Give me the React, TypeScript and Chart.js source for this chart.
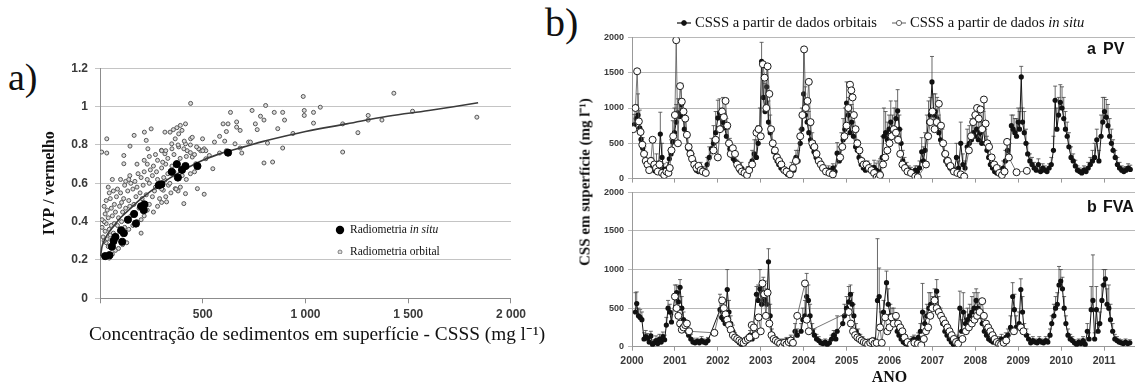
import React, { useEffect, useRef } from 'react';
import { Chart, registerables } from 'chart.js';

Chart.register(...registerables);

const SERIF = "'Liberation Serif', 'Times New Roman', serif";
const SANS = "'Liberation Sans', Arial, sans-serif";

// ---------- Panel a data ----------
const aTitleX = 'Concentração de sedimentos em superfície - CSSS (mg l⁻¹)';
const aTitleY = 'IVP / vermelho';
const aLegendInSitu = 'Radiometria';
const aLegendOrbital = 'Radiometria orbital';

const aInSitu: [number, number][] = [
  [25, 0.22], [46, 0.225], [58, 0.27], [66, 0.3], [75, 0.32], [103, 0.355], [108, 0.295], [116, 0.34],
  [136, 0.41], [166, 0.44], [175, 0.39], [200, 0.48], [213, 0.46], [216, 0.49], [286, 0.59], [299, 0.595],
  [349, 0.66], [374, 0.7], [379, 0.63], [399, 0.67], [416, 0.69], [474, 0.69], [623, 0.76],
];

const aOrbital: [number, number][] = [
  [441, 1.017], [635, 0.97], [623, 0.91], [665, 0.92], [740, 0.98], [806, 1.006], [781, 0.95], [798, 0.93],
  [756, 0.91], [765, 0.88], [848, 0.97], [865, 0.885], [889, 0.97], [898, 0.93], [889, 0.784], [989, 1.053],
  [994, 0.98], [994, 0.954], [1039, 0.97], [1039, 0.914], [1072, 0.997], [1181, 0.91], [1181, 0.763],
  [1255, 0.864], [1305, 0.954], [1305, 0.93], [1372, 0.93], [1430, 1.07], [1521, 0.976], [1834, 0.945],
  [798, 0.706], [840, 0.711], [815, 0.81], [939, 0.86], [723, 0.815], [732, 0.815], [690, 0.758], [682, 0.784],
  [657, 0.806], [607, 0.82], [615, 0.87], [582, 0.845], [557, 0.815], [599, 0.91], [665, 0.893], [682, 0.876],
  [615, 0.77], [582, 0.758], [549, 0.676], [515, 0.728], [507, 0.78], [499, 0.832], [490, 0.77], [515, 0.77],
  [532, 0.745], [507, 0.543], [474, 0.572], [466, 0.702], [449, 0.737], [441, 0.832], [449, 0.84], [424, 0.77],
  [416, 0.91], [399, 0.876], [391, 0.902], [374, 0.89], [383, 0.858], [357, 0.88], [341, 0.867], [366, 0.832],
  [349, 0.806], [383, 0.79], [408, 0.78], [416, 0.806], [416, 0.546], [408, 0.494], [391, 0.58], [366, 0.572],
  [333, 0.59], [324, 0.503], [308, 0.564], [316, 0.616], [316, 0.754], [299, 0.772], [316, 0.867], [249, 0.884],
  [216, 0.867], [233, 0.78], [225, 0.824], [166, 0.85], [146, 0.794], [116, 0.745], [116, 0.702], [33, 0.832],
  [8, 0.763], [33, 0.758],
  [45, 0.21], [60, 0.23], [75, 0.25], [55, 0.26], [40, 0.27], [90, 0.26], [110, 0.28], [30, 0.29], [70, 0.29],
  [130, 0.29], [20, 0.3],
  [15, 0.32], [35, 0.31], [50, 0.33], [65, 0.34], [80, 0.32], [95, 0.35], [25, 0.35], [45, 0.36], [10, 0.37],
  [55, 0.38], [85, 0.38], [120, 0.37], [140, 0.36], [30, 0.39], [70, 0.39], [105, 0.4], [20, 0.4], [200, 0.34],
  [160, 0.38], [180, 0.4],
  [10, 0.41], [40, 0.42], [60, 0.43], [90, 0.42], [130, 0.41], [150, 0.43], [25, 0.44], [75, 0.45], [110, 0.45],
  [170, 0.44], [200, 0.41], [215, 0.43], [35, 0.46], [55, 0.47], [95, 0.48], [125, 0.47], [145, 0.48], [190, 0.47],
  [230, 0.46], [260, 0.45], [20, 0.48], [70, 0.49], [105, 0.5], [165, 0.49], [240, 0.49], [280, 0.48], [300, 0.5],
  [30, 0.51], [50, 0.52], [80, 0.53], [115, 0.52], [140, 0.51], [175, 0.53], [205, 0.52], [255, 0.53], [290, 0.52],
  [320, 0.53], [45, 0.55], [65, 0.56], [100, 0.55], [135, 0.56], [160, 0.57], [195, 0.55], [225, 0.54], [265, 0.56],
  [300, 0.57], [345, 0.55], [380, 0.56], [40, 0.58], [85, 0.57], [120, 0.59], [150, 0.6], [180, 0.58], [210, 0.59],
  [240, 0.6], [270, 0.58], [340, 0.6], [370, 0.57],
  [60, 0.62], [100, 0.62], [125, 0.61], [140, 0.62], [170, 0.61], [200, 0.63], [230, 0.62], [255, 0.64], [280, 0.62],
  [310, 0.63], [330, 0.65], [145, 0.64], [185, 0.65], [215, 0.66], [245, 0.67], [275, 0.66], [300, 0.68], [320, 0.7],
  [350, 0.69], [360, 0.66], [400, 0.64], [420, 0.62], [440, 0.65], [460, 0.66], [230, 0.7], [260, 0.69], [280, 0.72],
  [305, 0.71], [215, 0.72], [180, 0.7],
  [240, 0.74], [270, 0.75], [300, 0.77], [330, 0.73], [360, 0.75], [390, 0.73], [420, 0.74], [440, 0.76], [460, 0.75],
  [480, 0.78], [350, 0.78], [320, 0.77], [380, 0.8], [410, 0.82], [440, 0.8], [470, 0.79], [500, 0.77],
];

const aFitCurve: [number, number][] = [
  [3, 0.22], [10, 0.27], [20, 0.3], [40, 0.34], [70, 0.38], [100, 0.42], [150, 0.47], [200, 0.52], [300, 0.6],
  [400, 0.665], [500, 0.72], [600, 0.76], [700, 0.79], [800, 0.82], [1000, 0.87], [1200, 0.91], [1400, 0.95],
  [1600, 0.98], [1840, 1.02],
];

// ---------- Panel b data: [decimal year, CSS mg/l, upper error] ----------
const bTitleY = 'CSS em superfície (mg l⁻¹)';
const bTitleX = 'ANO';
const bLegendOrbital = 'CSSS a partir de dados orbitais';
const bLegendInSitu = 'CSSS a partir de dados';
const bYearTicks = [2000, 2001, 2002, 2003, 2004, 2005, 2006, 2007, 2008, 2009, 2010, 2011];

const pvOrbital: [number, number, number][] = [
  [2000.05, 760, 150], [2000.1, 850, 200], [2000.14, 900, 300], [2000.18, 720, 250], [2000.21, 555, 150],
  [2000.25, 430, 150], [2000.29, 350, 100], [2000.33, 250, 120], [2000.37, 180, 100], [2000.41, 120, 80],
  [2000.45, 200, 100], [2000.49, 140, 90], [2000.53, 110, 60], [2000.57, 200, 150], [2000.62, 150, 100],
  [2000.66, 630, 310], [2000.7, 300, 200], [2000.74, 130, 80], [2000.78, 100, 60], [2000.83, 150, 80],
  [2000.87, 280, 120], [2000.91, 350, 200], [2000.95, 520, 300], [2000.99, 650, 350], [2001.03, 800, 250],
  [2001.07, 930, 200], [2001.11, 880, 250], [2001.15, 1050, 300], [2001.19, 900, 200], [2001.22, 700, 200],
  [2001.26, 620, 200], [2001.3, 430, 150], [2001.34, 380, 100], [2001.38, 300, 100], [2001.42, 250, 100],
  [2001.46, 180, 80], [2001.5, 120, 60], [2001.55, 100, 60], [2001.6, 150, 80], [2001.65, 110, 60],
  [2001.7, 90, 60], [2001.75, 200, 100], [2001.8, 300, 150], [2001.85, 420, 150], [2001.9, 500, 250],
  [2001.95, 650, 300], [2002.0, 860, 250], [2002.04, 930, 200], [2002.08, 700, 300], [2002.12, 800, 350],
  [2002.16, 720, 200], [2002.2, 600, 250], [2002.24, 500, 200], [2002.28, 420, 150], [2002.32, 330, 100],
  [2002.36, 280, 100], [2002.4, 250, 80], [2002.45, 180, 80], [2002.5, 120, 60], [2002.55, 150, 80],
  [2002.6, 100, 50], [2002.65, 80, 50], [2002.7, 120, 50], [2002.75, 150, 80], [2002.8, 250, 150],
  [2002.85, 350, 200], [2002.9, 300, 250], [2002.94, 500, 250], [2002.98, 700, 300], [2003.02, 1660, 270],
  [2003.06, 1150, 300], [2003.1, 950, 400], [2003.14, 1300, 300], [2003.18, 800, 300], [2003.22, 650, 250],
  [2003.26, 500, 200], [2003.3, 380, 150], [2003.34, 300, 120], [2003.38, 250, 100], [2003.42, 200, 100],
  [2003.47, 150, 80], [2003.52, 120, 60], [2003.57, 100, 60], [2003.62, 60, 40], [2003.67, 80, 50],
  [2003.72, 150, 80], [2003.77, 120, 60], [2003.82, 300, 100], [2003.87, 250, 150], [2003.92, 500, 200],
  [2003.96, 700, 300], [2004.0, 1200, 600], [2004.04, 900, 400], [2004.08, 800, 300], [2004.12, 650, 300],
  [2004.16, 550, 200], [2004.2, 450, 200], [2004.24, 380, 150], [2004.29, 300, 120], [2004.33, 250, 100],
  [2004.38, 200, 80], [2004.43, 150, 80], [2004.48, 130, 60], [2004.53, 100, 50], [2004.58, 120, 60],
  [2004.63, 90, 50], [2004.68, 150, 60], [2004.73, 100, 80], [2004.78, 360, 150], [2004.83, 250, 200],
  [2004.88, 450, 200], [2004.92, 550, 300], [2004.96, 700, 300], [2005.0, 1070, 300], [2005.04, 900, 250],
  [2005.08, 650, 300], [2005.12, 800, 250], [2005.16, 600, 200], [2005.21, 450, 200], [2005.25, 400, 150],
  [2005.29, 300, 120], [2005.34, 200, 100], [2005.39, 150, 80], [2005.44, 120, 80], [2005.49, 150, 100],
  [2005.54, 130, 80], [2005.59, 100, 80], [2005.64, 160, 100], [2005.69, 120, 100], [2005.74, 100, 150],
  [2005.78, 80, 200], [2005.83, 300, 300], [2005.87, 600, 400], [2005.91, 650, 300], [2005.95, 550, 250],
  [2005.99, 700, 200], [2006.03, 800, 300], [2006.07, 650, 250], [2006.11, 700, 300], [2006.15, 850, 250],
  [2006.19, 960, 300], [2006.23, 700, 200], [2006.27, 500, 200], [2006.31, 250, 150], [2006.35, 200, 100],
  [2006.4, 150, 80], [2006.45, 120, 60], [2006.5, 100, 60], [2006.55, 80, 50], [2006.6, 120, 60],
  [2006.65, 100, 80], [2006.7, 150, 100], [2006.75, 380, 200], [2006.79, 250, 200], [2006.83, 400, 250],
  [2006.87, 600, 300], [2006.91, 800, 300], [2006.95, 900, 250], [2006.99, 1370, 360], [2007.03, 900, 300],
  [2007.07, 950, 250], [2007.11, 850, 300], [2007.15, 650, 250], [2007.19, 550, 200], [2007.23, 500, 200],
  [2007.27, 350, 150], [2007.31, 250, 120], [2007.36, 200, 100], [2007.41, 150, 80], [2007.46, 120, 60],
  [2007.51, 100, 60], [2007.56, 300, 200], [2007.61, 150, 100], [2007.66, 500, 300], [2007.71, 200, 150],
  [2007.76, 150, 100], [2007.81, 450, 250], [2007.86, 500, 250], [2007.91, 550, 300], [2007.95, 650, 250],
  [2007.99, 600, 300], [2008.03, 700, 300], [2008.07, 550, 250], [2008.11, 650, 200], [2008.15, 500, 300],
  [2008.19, 700, 250], [2008.23, 500, 200], [2008.27, 400, 200], [2008.31, 300, 150], [2008.35, 200, 100],
  [2008.4, 150, 80], [2008.45, 100, 60], [2008.5, 80, 50], [2008.55, 120, 60], [2008.6, 100, 60],
  [2008.65, 150, 100], [2008.7, 250, 150], [2008.75, 400, 150], [2008.8, 300, 200], [2008.84, 750, 150],
  [2008.88, 700, 200], [2008.92, 650, 200], [2008.96, 600, 250], [2009.0, 800, 200], [2009.03, 700, 250],
  [2009.07, 1440, 150], [2009.1, 800, 200], [2009.14, 650, 300], [2009.18, 500, 200], [2009.22, 350, 150],
  [2009.27, 250, 100], [2009.32, 200, 100], [2009.37, 150, 80], [2009.42, 120, 60], [2009.47, 200, 80],
  [2009.52, 100, 60], [2009.57, 150, 60], [2009.62, 120, 60], [2009.67, 100, 50], [2009.72, 150, 60],
  [2009.77, 200, 100], [2009.82, 400, 200], [2009.86, 1110, 200], [2009.9, 700, 300], [2009.94, 900, 250],
  [2009.98, 1080, 250], [2010.02, 1000, 300], [2010.06, 850, 300], [2010.1, 700, 250], [2010.14, 600, 200],
  [2010.18, 450, 200], [2010.23, 300, 150], [2010.28, 250, 100], [2010.33, 180, 80], [2010.38, 120, 60],
  [2010.43, 100, 50], [2010.48, 80, 50], [2010.53, 120, 60], [2010.58, 100, 60], [2010.63, 150, 80],
  [2010.68, 200, 100], [2010.73, 250, 150], [2010.78, 300, 200], [2010.83, 550, 150], [2010.88, 250, 150],
  [2010.93, 600, 300], [2010.97, 800, 350], [2011.01, 950, 200], [2011.05, 870, 250], [2011.09, 750, 300],
  [2011.13, 600, 250], [2011.17, 500, 200], [2011.21, 400, 150], [2011.26, 300, 100], [2011.31, 200, 100],
  [2011.36, 150, 80], [2011.41, 120, 60], [2011.46, 100, 60], [2011.51, 120, 50], [2011.56, 150, 60],
  [2011.61, 130, 60],
];

const pvInSitu: [number, number][] = [
  [2000.03, 700], [2000.08, 1000], [2000.12, 1520], [2000.16, 810], [2000.2, 660], [2000.24, 480], [2000.28, 350],
  [2000.32, 250], [2000.36, 200], [2000.4, 120], [2000.44, 250], [2000.48, 550], [2000.52, 200], [2000.56, 150],
  [2000.6, 100], [2000.64, 200], [2000.7, 80], [2000.75, 50], [2000.8, 100], [2000.85, 80], [2000.88, 150],
  [2000.92, 400], [2000.96, 600], [2001.0, 900], [2001.03, 1960], [2001.07, 500], [2001.12, 1310], [2001.16, 1090],
  [2001.2, 950], [2001.24, 850], [2001.28, 620], [2001.32, 450], [2001.36, 350], [2001.4, 280], [2001.45, 200],
  [2001.5, 150], [2001.55, 180], [2001.6, 120], [2001.65, 100], [2001.72, 80],
  [2001.9, 400], [2001.95, 550], [2002.0, 300], [2002.05, 700], [2002.1, 950], [2002.14, 870], [2002.18, 1100],
  [2002.22, 750], [2002.26, 500], [2002.3, 350], [2002.35, 430], [2002.4, 350], [2002.45, 200], [2002.5, 150],
  [2002.56, 100], [2002.62, 80], [2002.68, 50], [2002.73, 120], [2002.8, 200],
  [2002.9, 650], [2002.95, 700], [2003.0, 600], [2003.05, 1620], [2003.09, 1430], [2003.13, 1000], [2003.16, 1590],
  [2003.2, 1200], [2003.24, 700], [2003.28, 500], [2003.33, 400], [2003.38, 300], [2003.43, 250], [2003.48, 200],
  [2003.55, 120], [2003.6, 100], [2003.68, 60], [2003.75, 150], [2003.82, 250],
  [2003.92, 600], [2003.97, 900], [2004.01, 1830], [2004.05, 1000], [2004.09, 1100], [2004.12, 1370], [2004.16, 800],
  [2004.2, 500], [2004.25, 450], [2004.3, 350], [2004.35, 250], [2004.4, 200], [2004.45, 150], [2004.52, 100],
  [2004.6, 80], [2004.68, 60],
  [2004.85, 300], [2004.9, 450], [2004.95, 600], [2005.0, 750], [2005.04, 1000], [2005.08, 1330], [2005.11, 1250],
  [2005.14, 1150], [2005.17, 900], [2005.21, 700], [2005.25, 500], [2005.3, 400], [2005.35, 250], [2005.4, 200],
  [2005.46, 200], [2005.52, 150], [2005.58, 120], [2005.64, 80], [2005.7, 20], [2005.74, 0], [2005.78, 50],
  [2005.85, 200], [2005.9, 300], [2005.95, 400], [2006.0, 500], [2006.05, 600], [2006.1, 700], [2006.15, 650],
  [2006.2, 550], [2006.25, 350], [2006.3, 200], [2006.36, 150], [2006.42, 100], [2006.5, 80], [2006.6, 30],
  [2006.66, 20],
  [2006.85, 200], [2006.9, 600], [2006.95, 800], [2007.0, 950], [2007.05, 700], [2007.1, 800], [2007.15, 1060],
  [2007.2, 750], [2007.25, 500], [2007.3, 350], [2007.36, 250], [2007.42, 180], [2007.5, 100], [2007.58, 80],
  [2007.66, 60], [2007.74, 30],
  [2007.85, 400], [2007.9, 600], [2007.95, 800], [2008.0, 900], [2008.04, 1000], [2008.08, 850], [2008.12, 980],
  [2008.16, 700], [2008.2, 1120], [2008.24, 780], [2008.28, 500], [2008.32, 450], [2008.38, 300], [2008.44, 200],
  [2008.5, 150], [2008.56, 80], [2008.62, 50], [2008.68, 100], [2008.74, 520], [2008.78, 300],
  [2008.96, 90], [2009.2, 110],
];

const fvaOrbital: [number, number, number][] = [
  [2000.08, 450, 250], [2000.11, 560, 150], [2000.15, 400, 100], [2000.19, 380, 100], [2000.23, 350, 100],
  [2000.28, 100, 80], [2000.32, 130, 80], [2000.36, 110, 60], [2000.4, 60, 50], [2000.44, 140, 60],
  [2000.48, 30, 40], [2000.52, 50, 40], [2000.56, 80, 60], [2000.6, 40, 40], [2000.64, 100, 60],
  [2000.68, 60, 50], [2000.72, 130, 60], [2000.76, 90, 60], [2000.8, 280, 100], [2000.84, 500, 100],
  [2000.88, 450, 100], [2000.92, 320, 100], [2001.0, 650, 150], [2001.04, 700, 100], [2001.08, 580, 200],
  [2001.12, 770, 100], [2001.16, 500, 150], [2001.2, 350, 100], [2001.24, 250, 100], [2001.28, 200, 80],
  [2001.32, 150, 60], [2001.37, 100, 60], [2001.42, 60, 50], [2001.47, 50, 40], [2001.52, 70, 40],
  [2001.57, 50, 40], [2001.62, 80, 50], [2001.67, 60, 40], [2001.72, 50, 40], [2001.77, 80, 40],
  [2002.05, 480, 200], [2002.09, 380, 150], [2002.13, 350, 150], [2002.17, 300, 100], [2002.22, 740, 260],
  [2002.26, 450, 150], [2002.3, 300, 100], [2002.35, 200, 80], [2002.4, 120, 60], [2002.45, 80, 50],
  [2002.5, 50, 40], [2002.55, 30, 30], [2002.6, 50, 40], [2002.65, 80, 40], [2002.7, 100, 50],
  [2002.75, 150, 60], [2002.8, 100, 60], [2002.9, 680, 100], [2002.94, 600, 200], [2002.98, 750, 250],
  [2003.02, 550, 300], [2003.06, 700, 200], [2003.1, 600, 250], [2003.14, 550, 200], [2003.18, 1100, 170],
  [2003.22, 400, 150], [2003.26, 130, 100], [2003.3, 100, 60], [2003.35, 80, 50], [2003.4, 50, 40],
  [2003.45, 30, 30], [2003.5, 60, 40], [2003.55, 40, 30], [2003.6, 80, 40], [2003.65, 50, 40],
  [2003.7, 100, 50], [2003.75, 60, 50], [2003.8, 200, 100], [2003.85, 150, 80], [2003.94, 200, 100],
  [2003.98, 350, 150], [2004.03, 400, 200], [2004.07, 650, 300], [2004.11, 600, 200], [2004.15, 400, 150],
  [2004.2, 200, 100], [2004.25, 150, 80], [2004.3, 100, 60], [2004.35, 80, 50], [2004.4, 50, 40],
  [2004.45, 40, 30], [2004.5, 60, 40], [2004.55, 30, 30], [2004.6, 50, 40], [2004.65, 100, 50],
  [2004.7, 150, 60], [2004.75, 100, 80], [2004.78, 200, 200], [2004.91, 300, 100], [2004.95, 400, 150],
  [2005.0, 500, 150], [2005.05, 580, 200], [2005.09, 680, 120], [2005.13, 550, 150], [2005.17, 400, 150],
  [2005.22, 200, 100], [2005.27, 150, 80], [2005.32, 100, 60], [2005.37, 80, 50], [2005.42, 50, 40],
  [2005.47, 40, 40], [2005.52, 60, 40], [2005.57, 30, 30], [2005.62, 80, 40], [2005.67, 50, 50],
  [2005.72, 600, 800], [2005.76, 650, 370], [2005.8, 250, 200], [2005.86, 450, 150], [2005.93, 830, 150],
  [2005.97, 550, 200], [2006.02, 400, 150], [2006.06, 350, 150], [2006.1, 400, 100], [2006.14, 300, 100],
  [2006.18, 200, 100], [2006.22, 150, 80], [2006.27, 100, 60], [2006.32, 60, 50], [2006.37, 40, 40],
  [2006.42, 30, 30], [2006.47, 60, 40], [2006.52, 80, 50], [2006.57, 100, 50], [2006.62, 60, 40],
  [2006.67, 120, 60], [2006.72, 200, 100], [2006.77, 450, 370], [2006.82, 300, 150], [2006.87, 400, 150],
  [2006.92, 500, 200], [2006.96, 550, 150], [2007.01, 500, 150], [2007.05, 600, 150], [2007.1, 720, 150],
  [2007.14, 500, 150], [2007.19, 400, 100], [2007.24, 300, 100], [2007.29, 200, 100], [2007.34, 150, 80],
  [2007.39, 100, 60], [2007.44, 60, 50], [2007.49, 30, 30], [2007.54, 50, 40], [2007.59, 100, 50],
  [2007.64, 500, 220], [2007.68, 200, 150], [2007.72, 450, 250], [2007.77, 300, 150], [2007.82, 350, 150],
  [2007.87, 400, 150], [2007.92, 450, 200], [2007.97, 500, 200], [2008.02, 600, 150], [2008.06, 500, 200],
  [2008.11, 400, 150], [2008.16, 300, 100], [2008.21, 200, 100], [2008.26, 150, 80], [2008.31, 100, 60],
  [2008.36, 80, 50], [2008.41, 60, 50], [2008.46, 100, 50], [2008.51, 50, 40], [2008.56, 80, 50],
  [2008.61, 100, 60], [2008.66, 60, 50], [2008.71, 120, 60], [2008.76, 150, 80], [2008.82, 250, 150],
  [2008.87, 650, 180], [2008.91, 480, 200], [2008.95, 250, 150], [2009.02, 300, 150], [2009.06, 740, 140],
  [2009.1, 450, 200], [2009.14, 200, 100], [2009.19, 150, 80], [2009.24, 100, 60], [2009.29, 50, 40],
  [2009.34, 80, 50], [2009.39, 60, 40], [2009.44, 50, 40], [2009.49, 80, 50], [2009.54, 60, 40],
  [2009.59, 50, 40], [2009.64, 80, 50], [2009.69, 60, 40], [2009.74, 150, 80], [2009.78, 300, 100],
  [2009.83, 400, 150], [2009.87, 500, 150], [2009.91, 550, 150], [2009.95, 800, 240], [2009.99, 850, 150],
  [2010.03, 750, 150], [2010.07, 500, 150], [2010.11, 300, 100], [2010.16, 150, 80], [2010.21, 100, 60],
  [2010.26, 80, 50], [2010.31, 50, 40], [2010.36, 30, 30], [2010.41, 60, 40], [2010.46, 40, 30],
  [2010.51, 80, 50], [2010.56, 30, 30], [2010.61, 200, 100], [2010.65, 100, 80], [2010.7, 480, 300],
  [2010.74, 600, 590], [2010.78, 100, 80], [2010.82, 480, 300], [2010.86, 200, 100], [2010.9, 300, 150],
  [2010.95, 600, 200], [2010.99, 800, 200], [2011.03, 880, 120], [2011.07, 550, 200], [2011.11, 500, 300],
  [2011.15, 350, 200], [2011.2, 200, 100], [2011.25, 100, 60], [2011.3, 80, 50], [2011.35, 60, 40],
  [2011.4, 50, 40], [2011.45, 40, 30], [2011.5, 60, 40], [2011.55, 40, 30], [2011.6, 50, 40],
];

const fvaInSitu: [number, number][] = [
  [2001.0, 650], [2001.04, 500], [2001.08, 400], [2001.12, 300], [2001.16, 220], [2001.2, 250], [2001.24, 280],
  [2001.28, 300], [2001.33, 200],
  [2001.92, 180], [2002.1, 600], [2002.14, 500], [2002.18, 420], [2002.22, 350], [2002.26, 280], [2002.3, 220],
  [2002.35, 150], [2002.4, 120], [2002.45, 100], [2002.5, 80], [2002.55, 60], [2002.6, 50], [2002.65, 80],
  [2002.7, 100], [2002.74, 120], [2002.79, 280], [2002.84, 250], [2002.88, 150],
  [2002.95, 380], [2003.0, 200], [2003.04, 820], [2003.08, 680], [2003.12, 400], [2003.16, 700], [2003.2, 300],
  [2003.25, 150], [2003.3, 100], [2003.35, 80], [2003.4, 60], [2003.45, 40], [2003.5, 0], [2003.55, 50],
  [2003.6, 30], [2003.65, 60], [2003.7, 80], [2003.75, 50],
  [2003.85, 400], [2004.03, 820], [2004.07, 350], [2004.12, 200],
  [2005.05, 450], [2005.1, 300], [2005.15, 200], [2005.2, 150], [2005.25, 120], [2005.3, 100], [2005.35, 80],
  [2005.4, 60], [2005.45, 50], [2005.5, 30], [2005.55, 50], [2005.6, 70], [2005.65, 40], [2005.7, 50],
  [2005.78, 250], [2005.82, 50],
  [2005.9, 380], [2005.95, 200], [2006.0, 250], [2006.05, 380], [2006.1, 300], [2006.15, 400], [2006.2, 300],
  [2006.25, 250], [2006.3, 200], [2006.35, 120], [2006.42, 60], [2006.5, 30], [2006.58, 50], [2006.66, 40],
  [2006.74, 20],
  [2006.8, 100], [2006.85, 200], [2006.9, 250], [2006.95, 400], [2007.0, 500], [2007.05, 600], [2007.1, 500],
  [2007.15, 450], [2007.2, 400], [2007.25, 350], [2007.3, 300], [2007.35, 250], [2007.4, 200], [2007.45, 150],
  [2007.5, 100], [2007.55, 60], [2007.6, 40],
  [2007.7, 100], [2007.78, 200], [2007.85, 250], [2007.92, 300], [2007.98, 350], [2008.04, 400], [2008.1, 450],
  [2008.16, 590], [2008.2, 400], [2008.25, 300], [2008.3, 250], [2008.35, 200], [2008.4, 150], [2008.45, 100],
  [2008.5, 60], [2008.55, 40], [2008.6, 30], [2008.66, 50], [2008.72, 80],
  [2008.9, 200], [2009.06, 250], [2009.12, 200],
];

// ---------- helpers ----------
const fmtThousands = (v: number) =>
  v >= 1000 ? `${Math.floor(v / 1000)} ${String(v % 1000).padStart(3, '0')}` : String(v);

const errorBarPlugin = {
  id: 'errorBars',
  beforeDatasetsDraw(chart: any) {
    const { ctx, chartArea } = chart;
    const yScale = chart.scales.y;
    ctx.save();
    ctx.beginPath();
    ctx.rect(chartArea.left, chartArea.top - 1, chartArea.right - chartArea.left, chartArea.bottom - chartArea.top + 1);
    ctx.clip();
    chart.data.datasets.forEach((ds: any, i: number) => {
      if (!ds.errors) return;
      const meta = chart.getDatasetMeta(i);
      ctx.strokeStyle = '#444';
      ctx.lineWidth = 0.8;
      meta.data.forEach((pt: any, j: number) => {
        const e = ds.errors[j];
        if (!e) return;
        const yTop = yScale.getPixelForValue(ds.data[j].y + e);
        ctx.beginPath();
        ctx.moveTo(pt.x, pt.y);
        ctx.lineTo(pt.x, yTop);
        ctx.moveTo(pt.x - 2, yTop);
        ctx.lineTo(pt.x + 2, yTop);
        ctx.stroke();
      });
    });
    ctx.restore();
  },
};

function ChartCanvas({ left, top, width, height, makeConfig }: any) {
  const ref = useRef<HTMLCanvasElement | null>(null);
  useEffect(() => {
    const chart = new Chart(ref.current as HTMLCanvasElement, makeConfig());
    return () => chart.destroy();
  }, []);
  return (
    <canvas
      ref={ref}
      width={width}
      height={height}
      style={{ position: 'absolute', left, top, width, height }}
    />
  );
}

const tickFontA = { family: SANS, size: 12, weight: 'bold' as const };
const tickColor = '#3a3a3a';

function panelAConfig(): any {
  return {
    type: 'scatter',
    data: {
      datasets: [
        {
          label: 'Radiometria in situ',
          data: aInSitu.map(([x, y]) => ({ x, y })),
          pointRadius: 3.6,
          pointBackgroundColor: '#000',
          pointBorderColor: '#000',
          pointBorderWidth: 1,
        },
        {
          label: 'ajuste',
          data: aFitCurve.map(([x, y]) => ({ x, y })),
          showLine: true,
          borderColor: '#3a3a3a',
          borderWidth: 1.6,
          pointRadius: 0,
          tension: 0.4,
          fill: false,
        },
        {
          label: 'Radiometria orbital',
          data: aOrbital.map(([x, y]) => ({ x, y })),
          pointRadius: 2,
          pointBackgroundColor: '#dcdcdc',
          pointBorderColor: '#555',
          pointBorderWidth: 1,
        },
      ],
    },
    options: {
      responsive: false,
      animation: false,
      layout: { padding: { top: 28.3, right: 16, bottom: 0, left: 0 } },
      plugins: { legend: { display: false }, tooltip: { enabled: false } },
      scales: {
        x: {
          type: 'linear',
          min: 0,
          max: 2000,
          afterFit: (s: any) => { s.height = 51.7; },
          ticks: {
            stepSize: 500,
            padding: 4,
            maxRotation: 0,
            autoSkip: false,
            font: tickFontA,
            color: tickColor,
            callback: (v: number) => (v === 0 ? '' : fmtThousands(v)),
          },
          grid: { drawOnChartArea: false, tickLength: 5, color: '#8c8c8c' },
          border: { color: '#8c8c8c' },
          title: { display: false, text: aTitleX },
        },
        y: {
          min: 0,
          max: 1.2,
          afterFit: (s: any) => { s.width = 100; },
          ticks: {
            stepSize: 0.2,
            padding: 7,
            font: tickFontA,
            color: tickColor,
            callback: (v: number) => String(Number(v.toFixed(1))),
          },
          grid: { color: '#c4c4c4', tickLength: 5 },
          border: { color: '#8c8c8c' },
          title: {
            display: true,
            text: aTitleY,
            font: { family: SERIF, size: 16, weight: 'bold' },
            color: '#111',
            padding: { top: 40.4, bottom: 0 },
          },
        },
      },
    },
  };
}

function panelBConfig(orbital: [number, number, number][], inSitu: [number, number][], bottom: boolean): any {
  return {
    type: 'scatter',
    data: {
      datasets: [
        {
          label: 'CSSS a partir de dados in situ',
          data: inSitu.map(([x, y]) => ({ x, y })),
          showLine: true,
          borderColor: '#555',
          borderWidth: 0.8,
          pointRadius: 3.5,
          pointBackgroundColor: '#fff',
          pointBorderColor: '#1a1a1a',
          pointBorderWidth: 1,
        },
        {
          label: 'CSSS a partir de dados orbitais',
          data: orbital.map(([x, y]) => ({ x, y })),
          errors: orbital.map((d) => d[2]),
          showLine: true,
          borderColor: '#151515',
          borderWidth: 1,
          pointRadius: 2.6,
          pointBackgroundColor: '#111',
          pointBorderColor: '#111',
          pointBorderWidth: 0,
        },
      ],
    },
    plugins: [errorBarPlugin],
    options: {
      responsive: false,
      animation: false,
      layout: { padding: { top: 6.5, right: 0, bottom: 0, left: 0 } },
      plugins: { legend: { display: false }, tooltip: { enabled: false } },
      scales: {
        x: {
          type: 'linear',
          min: 2000,
          max: 2012,
          afterFit: (s: any) => { s.height = bottom ? 40.3 : 8; },
          afterBuildTicks: (s: any) => { s.ticks = [...bYearTicks, 2012].map((value) => ({ value })); },
          ticks: {
            display: bottom,
            padding: 4.6,
            maxRotation: 0,
            autoSkip: false,
            font: { family: SANS, size: 10.5, weight: 'bold' },
            color: tickColor,
            callback: (v: number) => (bYearTicks.includes(v) ? String(v) : ''),
          },
          grid: { drawOnChartArea: false, tickLength: 4, color: '#999' },
          border: { color: '#999' },
          title: {
            display: bottom,
            text: bTitleX,
            font: { family: SERIF, size: 16, weight: 'bold' },
            color: '#111',
            padding: { top: 0, bottom: 0 },
          },
        },
        y: {
          min: 0,
          max: 2000,
          afterFit: (s: any) => { s.width = 72; },
          ticks: {
            stepSize: 500,
            padding: 4,
            font: { family: SANS, size: 9, weight: 'bold' },
            color: tickColor,
            callback: (v: number) => String(v),
          },
          grid: { color: '#b8b8b8', tickLength: 4 },
          border: { color: '#999' },
        },
      },
    },
  };
}

const serifTop = (baseline: number, size: number) => baseline - 0.8375 * size;
const sansTop = (baseline: number, size: number) => baseline - 0.8465 * size;

function Txt({ left, top, size, family, weight, style, children }: any) {
  return (
    <div
      style={{
        position: 'absolute',
        left,
        top,
        fontSize: size,
        lineHeight: `${size}px`,
        fontFamily: family,
        fontWeight: weight || 'normal',
        whiteSpace: 'nowrap',
        color: '#111',
        ...style,
      }}
    >
      {children}
    </div>
  );
}

function LegendLine({ open }: { open: boolean }) {
  return (
    <svg width={16} height={10} style={{ display: 'inline-block', verticalAlign: 'middle', marginRight: 3 }}>
      <line x1={1} y1={5} x2={15} y2={5} stroke={open ? '#777' : '#111'} strokeWidth={1.2} />
      <circle cx={8} cy={5} r={open ? 2.6 : 2.4} fill={open ? '#fff' : '#111'} stroke={open ? '#555' : '#111'} strokeWidth={0.9} />
    </svg>
  );
}

export default function App() {
  return (
    <div
      style={{
        position: 'fixed',
        left: 0,
        top: 0,
        width: 1135,
        height: 387,
        overflow: 'hidden',
        background: '#fff',
      }}
    >
      {/* Panel a */}
      <Txt left={8} top={serifTop(90, 38)} size={38} family={SERIF}>a)</Txt>
      <ChartCanvas left={0} top={40} width={530} height={310} makeConfig={panelAConfig} />
      <Txt left={89} top={serifTop(340, 19.3)} size={19.3} family={SERIF}>{aTitleX}</Txt>
      <svg width={12} height={30} style={{ position: 'absolute', left: 334, top: 224 }}>
        <circle cx={6} cy={6} r={4.2} fill="#000" />
        <circle cx={6} cy={28} r={2} fill="#dcdcdc" stroke="#666" strokeWidth={0.8} />
      </svg>
      <Txt left={350} top={serifTop(234, 11.5)} size={11.5} family={SERIF}>
        {aLegendInSitu} <i>in situ</i>
      </Txt>
      <Txt left={350} top={serifTop(256, 11.5)} size={11.5} family={SERIF}>{aLegendOrbital}</Txt>

      {/* Panel b */}
      <Txt left={545} top={serifTop(36, 40)} size={40} family={SERIF}>b)</Txt>
      <ChartCanvas left={560} top={28} width={592} height={160} makeConfig={() => panelBConfig(pvOrbital, pvInSitu, false)} />
      <ChartCanvas left={560} top={183} width={592} height={204} makeConfig={() => panelBConfig(fvaOrbital, fvaInSitu, true)} />
      <div
        style={{
          position: 'absolute',
          left: 585,
          top: 182,
          transform: 'translate(-50%, -50%) rotate(-90deg)',
          fontFamily: SERIF,
          fontWeight: 'bold',
          fontSize: 15,
          lineHeight: '15px',
          whiteSpace: 'nowrap',
          color: '#111',
        }}
      >
        {bTitleY}
      </div>
      <div
        style={{
          position: 'absolute',
          left: 676,
          top: serifTop(27, 14.6),
          fontFamily: SERIF,
          fontSize: 14.6,
          lineHeight: '14.6px',
          whiteSpace: 'nowrap',
          color: '#111',
        }}
      >
        <LegendLine open={false} />
        {bLegendOrbital}
        <span style={{ display: 'inline-block', width: 14 }} />
        <LegendLine open={true} />
        {bLegendInSitu} <i>in situ</i>
      </div>
      <Txt left={1087} top={sansTop(55, 16)} size={16} family={SANS} weight="bold">a</Txt>
      <Txt left={1103} top={sansTop(55, 16)} size={16} family={SANS} weight="bold">PV</Txt>
      <Txt left={1087} top={sansTop(213, 16)} size={16} family={SANS} weight="bold">b</Txt>
      <Txt left={1103} top={sansTop(213, 16)} size={16} family={SANS} weight="bold">FVA</Txt>
    </div>
  );
}
